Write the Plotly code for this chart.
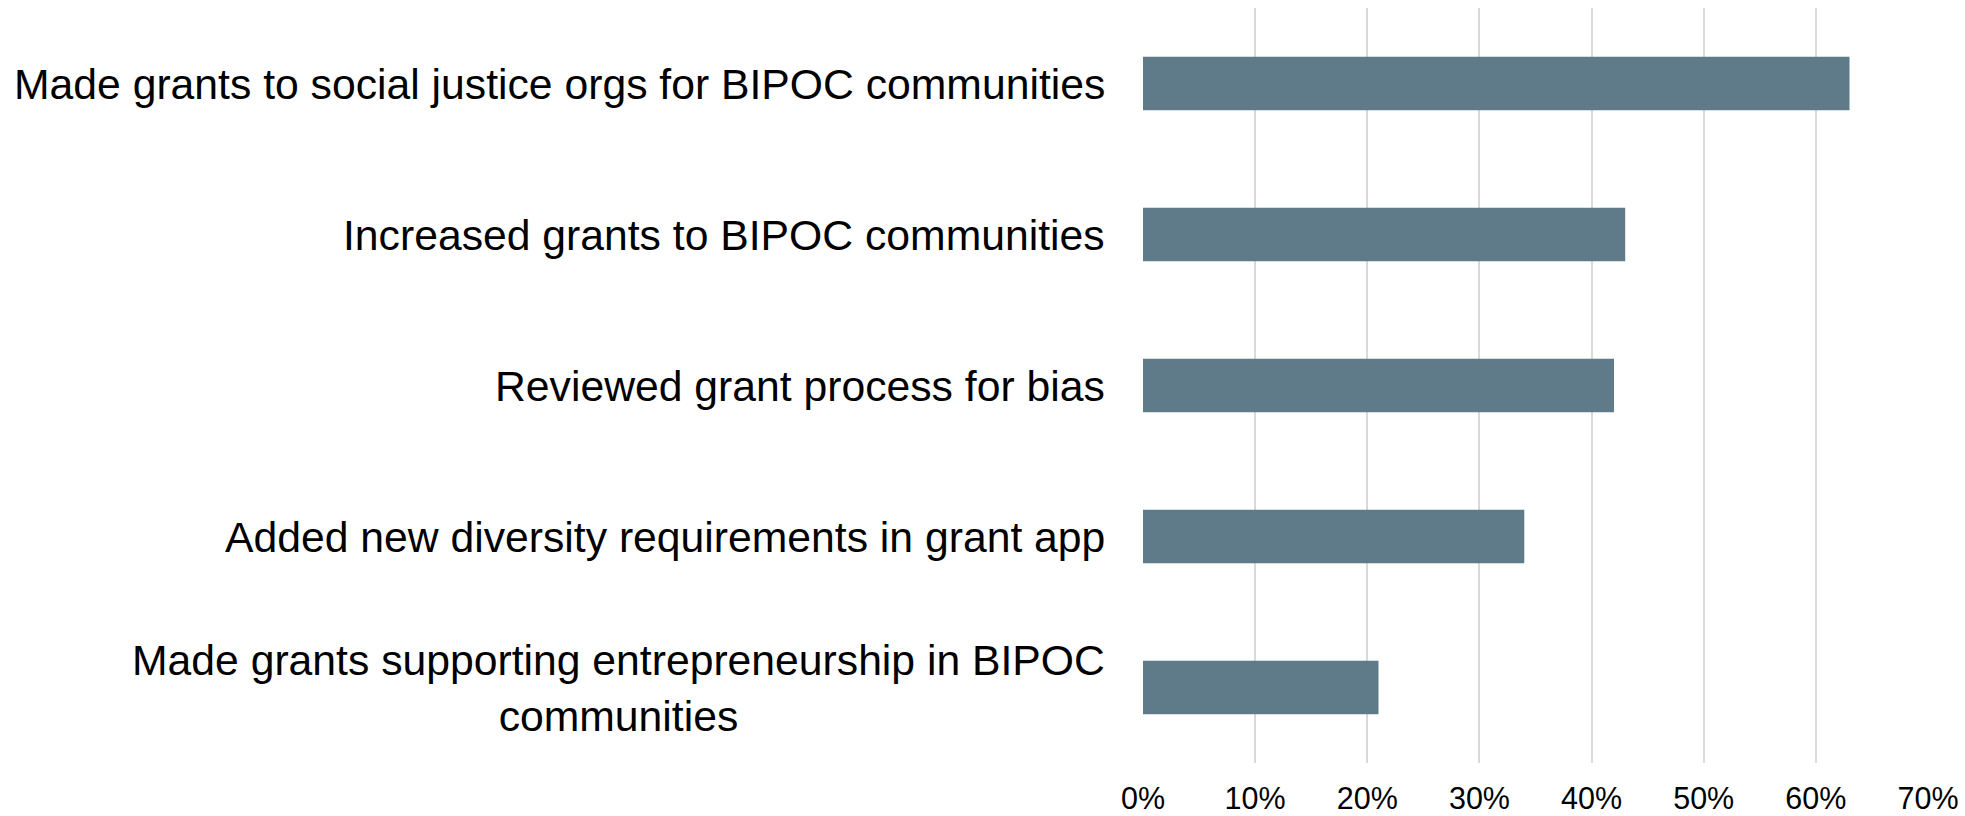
import plotly.graph_objects as go

# Survey responses: share of funders taking each action (percent)
categories = [
    "Made grants to social justice orgs for BIPOC communities",
    "Increased grants to BIPOC communities",
    "Reviewed grant process for bias",
    "Added new diversity requirements in grant app",
    "Made grants supporting entrepreneurship in BIPOC<br>communities",
]
values = [63, 43, 42, 34, 21]
x_ticks = [0, 10, 20, 30, 40, 50, 60, 70]
x_tick_labels = [f"{v}%" for v in x_ticks]

BAR_COLOR = "#5F7B89"
GRID_COLOR = "#D9D9D9"
FONT = "Liberation Sans, Arial, sans-serif"

fig = go.Figure(
    go.Bar(
        x=values,
        y=categories,
        orientation="h",
        marker=dict(color=BAR_COLOR, line=dict(width=0)),
        hoverinfo="skip",
    )
)

# Category labels as centered multi-line annotations to the left of the axis
for cat in categories:
    fig.add_annotation(
        x=0,
        y=cat,
        xref="paper",
        yref="y",
        text=cat,
        showarrow=False,
        xanchor="right",
        yanchor="middle",
        align="center",
        xshift=-36,
        font=dict(family=FONT, size=42.7, color="#000000"),
    )

fig.update_layout(
    width=1965,
    height=816,
    margin=dict(l=1143, r=37, t=8, b=53, autoexpand=False),
    paper_bgcolor="white",
    plot_bgcolor="white",
    bargap=0.645,
    showlegend=False,
    font=dict(family=FONT, color="#000000"),
)

fig.update_xaxes(
    range=[0, 70],
    tickmode="array",
    tickvals=x_ticks,
    ticktext=x_tick_labels,
    showgrid=True,
    gridcolor=GRID_COLOR,
    gridwidth=1.5,
    zeroline=False,
    showline=False,
    ticks="",
    automargin=False,
    tickfont=dict(family=FONT, size=30.5, color="#000000"),
    ticklabelstandoff=14,
)

fig.update_yaxes(
    autorange="reversed",
    showticklabels=False,
    showgrid=False,
    zeroline=False,
    showline=False,
    ticks="",
    automargin=False,
)

fig.write_html("out.html")
